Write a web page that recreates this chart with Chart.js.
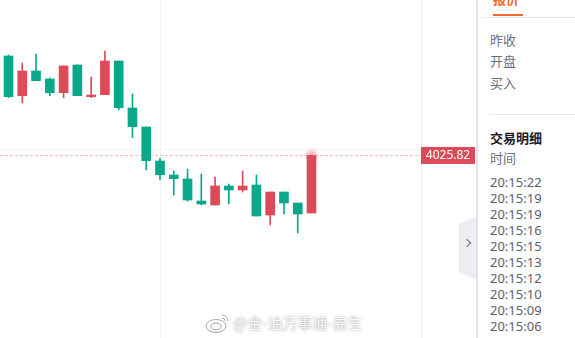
<!DOCTYPE html>
<html>
<head>
<meta charset="utf-8">
<script src="https://cdn.jsdelivr.net/npm/chart.js@4.4.1/dist/chart.umd.min.js"></script>
<style>
  html,body{margin:0;padding:0;background:#fff;overflow:hidden}
  body{width:575px;height:338px;position:relative;font-family:"Noto Sans","Noto Sans CJK SC",sans-serif}
  #wrap{position:absolute;left:0;top:0;width:476px;height:338px}
  #tab{position:absolute;left:459px;top:217px;width:17px;height:63px;background:#ececf2;
       clip-path:polygon(0 11%,100% 0,100% 100%,0 87%)}
  #tab span{position:absolute;left:5px;top:23px;width:5px;height:5px;border-right:1.6px solid #6c6c7c;border-top:1.6px solid #6c6c7c;transform:rotate(45deg)}
  #panel{position:absolute;left:476px;top:0;width:99px;height:338px;background:#fff;border-left:2px solid #e4e4ee;box-sizing:border-box;overflow:hidden}
  .t{position:absolute;left:12px;font-size:13px;line-height:16px;color:#6e6e7e;white-space:nowrap}
  .hr{position:absolute;height:1px;background:#e8e8ee;right:0}
  #wm{position:absolute;left:205px;top:312px;height:22px;color:#fafafa;font-family:"Noto Sans CJK SC",sans-serif;font-size:15px;line-height:22px;
      text-shadow:0 0 3px rgba(0,0,0,.32),0 0 1px rgba(0,0,0,.25);white-space:nowrap}
  #wm svg{vertical-align:top;margin-right:2px}
</style>
</head>
<body>
<div id="wrap"><canvas id="c" width="476" height="338"></canvas></div>
<div id="wm"><svg width="26" height="22" viewBox="0 0 26 22"><g fill="#fafafa" stroke="#a8a8a8" stroke-width="1"><ellipse cx="11" cy="14" rx="10" ry="6.5"/><ellipse cx="11" cy="14.5" rx="5" ry="3.5"/><path d="M17 3a6 6 0 0 1 6 6M17 6a3 3 0 0 1 3 3" fill="none"/></g></svg>@金-油万事通-易生</div>
<div id="tab"><span></span></div>
<div id="panel">
  <div class="t" style="top:-9px;color:#f26a2b;font-weight:700;left:15px">报价</div>
  <div style="position:absolute;left:15px;top:14px;width:30px;height:2px;background:#f26a2b"></div>
  <div class="hr" style="left:3px;top:17px"></div>
  <div class="t" style="top:32px">昨收</div>
  <div class="t" style="top:53px">开盘</div>
  <div class="t" style="top:75px">买入</div>
  <div class="hr" style="left:11px;top:114px"></div>
  <div class="t" style="top:130px;color:#1d1d28;font-weight:700">交易明细</div>
  <div class="t" style="top:150px">时间</div>
  <div id="times"></div>
</div>
<script>
// candles (oldest -> newest); red = up, green = down
const opens  = [4045.72,4037.78,4042.72,4041.12,4038.38,4043.92,4037.58,4037.98,4044.72,4035.32,4031.52,4024.72,4021.92,4021.12,4016.72,4015.92,4019.72,4018.92,4019.92,4013.92,4018.52,4016.32,4014.32];
const highs  = [4045.92,4044.32,4046.12,4041.32,4043.72,4043.92,4041.52,4046.72,4044.72,4038.12,4031.52,4025.32,4022.72,4023.12,4022.12,4021.52,4020.12,4022.72,4021.92,4018.52,4018.52,4016.32,4025.82];
const lows   = [4037.38,4036.38,4040.78,4037.78,4037.38,4037.78,4037.38,4037.98,4034.98,4029.38,4022.92,4020.92,4017.92,4016.72,4015.92,4015.92,4016.12,4018.52,4013.72,4011.92,4014.12,4010.32,4014.32];
const closes = [4037.58,4042.72,4040.78,4038.38,4043.72,4037.78,4037.92,4044.72,4035.38,4031.58,4024.78,4021.98,4021.18,4016.92,4016.12,4019.72,4018.92,4019.72,4013.72,4018.52,4016.32,4014.12,4025.82];
const lastPrice = 4025.82;
const tradeTimes = ['20:15:22','20:15:19','20:15:19','20:15:16','20:15:15','20:15:13','20:15:12','20:15:10','20:15:09','20:15:06','20:15:05'];

const red = '#de4b58', green = '#09a88b';
const cols = opens.map((o,i)=> closes[i] >= o ? red : green);

document.getElementById('times').innerHTML = tradeTimes.map((t,i)=>
  `<div class="t" style="top:${174+i*16}px;color:#5e5e6e">${t}</div>`).join('');

const priceTag = {
  id:'priceTag',
  afterDatasetsDraw(chart){
    const {ctx, chartArea:a, scales:{x,y}} = chart;
    const py = Math.round(y.getPixelForValue(lastPrice)) + 0.5;
    ctx.save();
    ctx.strokeStyle = 'rgba(222,75,88,0.35)';
    ctx.setLineDash([3,2]);
    ctx.lineWidth = 1;
    ctx.beginPath(); ctx.moveTo(a.left, py); ctx.lineTo(a.right, py); ctx.stroke();
    // glow on the live candle
    const px = x.getPixelForValue(closes.length-1);
    const g = ctx.createRadialGradient(px, py, 0, px, py, 8);
    g.addColorStop(0,'rgba(222,75,88,0.55)'); g.addColorStop(1,'rgba(222,75,88,0)');
    ctx.fillStyle = g; ctx.beginPath(); ctx.arc(px, py, 8, 0, Math.PI*2); ctx.fill();
    // tag
    ctx.fillStyle = red;
    ctx.fillRect(a.right, py-8.5, 54, 17);
    ctx.fillStyle = '#fff';
    ctx.font = '12px "Noto Sans", sans-serif';
    ctx.textAlign = 'center'; ctx.textBaseline = 'middle';
    ctx.fillText(lastPrice.toFixed(2), a.right+27, py+0.5);
    ctx.restore();
  }
};

new Chart(document.getElementById('c'), {
  type:'bar',
  data:{
    datasets:[
      { data: lows.map((l,i)=>({x:i, y:[l, highs[i]]})), backgroundColor: cols, barThickness:1, grouped:false, order:2 },
      { data: opens.map((o,i)=>({x:i, y:[o, closes[i]]})), backgroundColor: cols, barThickness:9, grouped:false, order:1, minBarLength:1.5 }
    ]
  },
  options:{
    responsive:false, animation:false, devicePixelRatio:1,
    layout:{padding:0},
    plugins:{legend:{display:false}, tooltip:{enabled:false}},
    scales:{
      x:{ type:'linear', min:-0.617, max:29.95, offset:false,
          afterBuildTicks:s=>{ s.ticks=[{value:11}]; },
          afterFit:s=>{ s.height=0; },
          ticks:{display:false}, grid:{color:'#f3f3f6', drawTicks:false, offset:false}, border:{display:false} },
      y:{ position:'right', min:3989.32, max:4056.92,
          afterBuildTicks:s=>{ s.ticks=[{value:4027}]; },
          afterFit:s=>{ s.width=55; },
          ticks:{display:false}, grid:{color:'#f3f3f6', drawTicks:false}, border:{color:'#ebebf0'} }
    }
  },
  plugins:[priceTag]
});
</script>
</body>
</html>
